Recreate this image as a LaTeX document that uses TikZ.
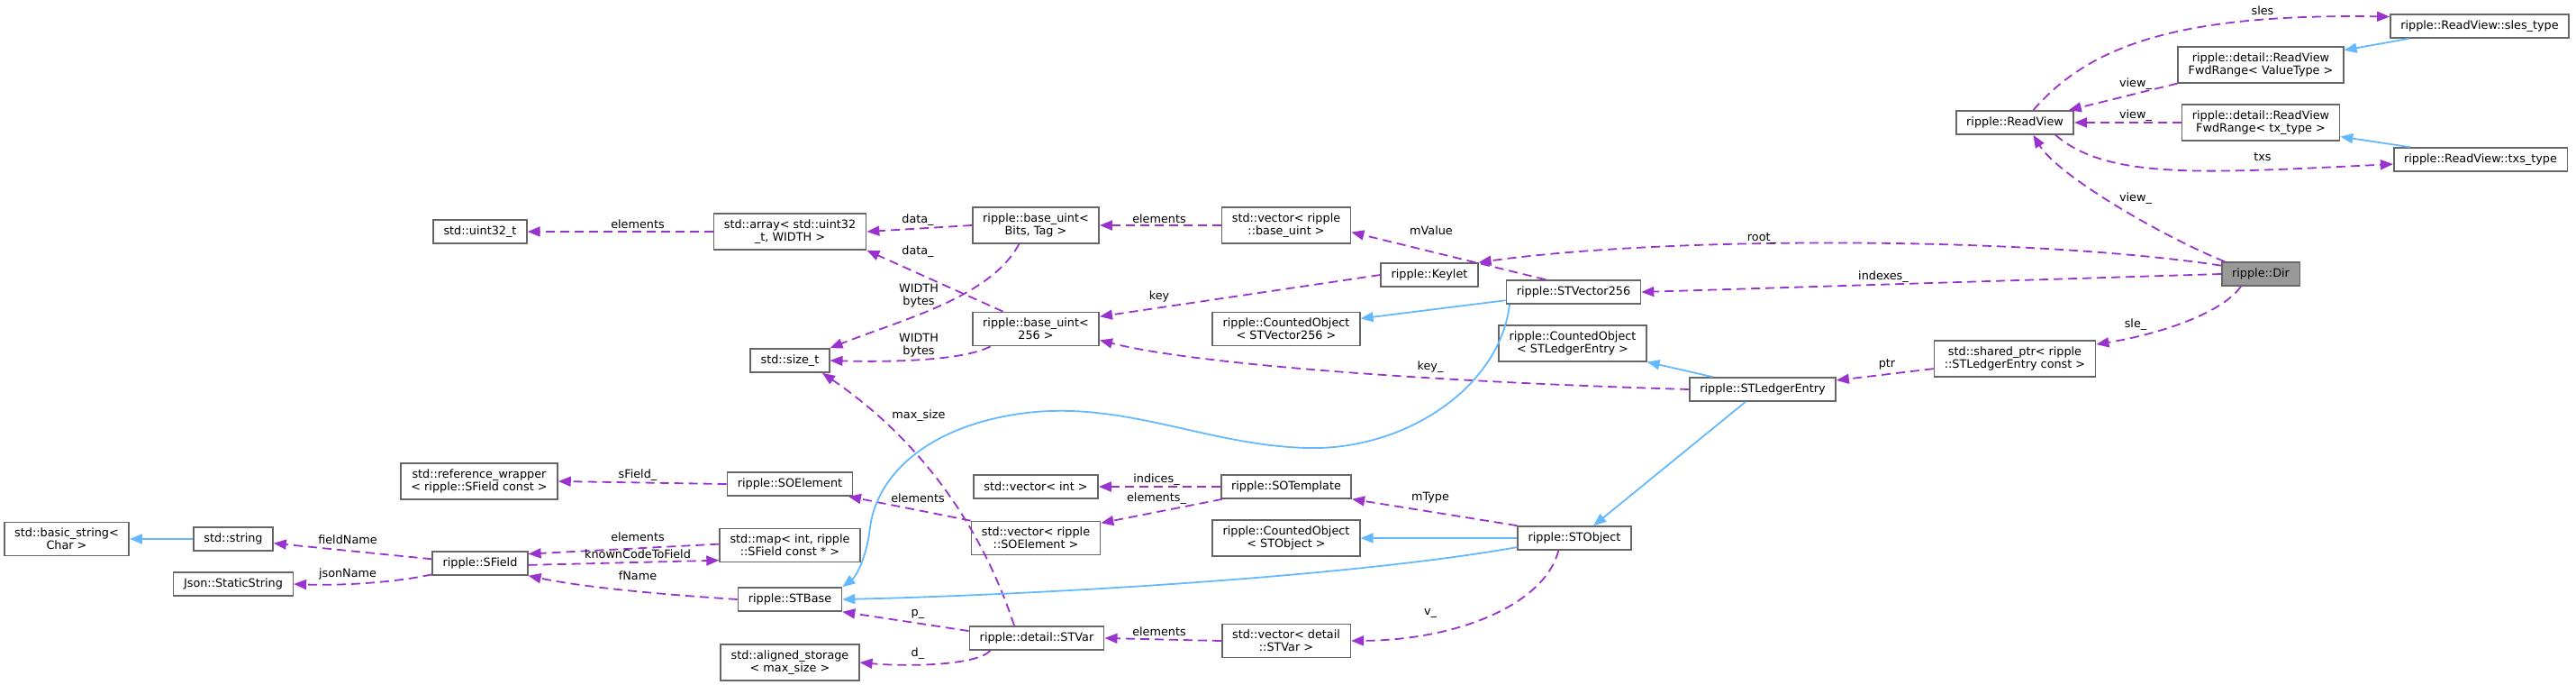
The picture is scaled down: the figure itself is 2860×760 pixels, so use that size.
\documentclass[tikz,border=0pt]{standalone}
\usepackage{fontspec}
\setmainfont{DejaVu Sans}
\usetikzlibrary{arrows.meta}
\definecolor{memPurple}{HTML}{9A32CD}
\definecolor{inhBlue}{HTML}{63B8FF}
\definecolor{boxGray}{HTML}{666666}
\definecolor{focusGray}{HTML}{999999}

\begin{document}
\begin{tikzpicture}[x=0.5pt, y=-0.5pt,
        every node/.style={font=\fontsize{6.4}{7}\selectfont},
        cls/.style={draw=boxGray, fill=white, line width=0.8pt, align=center,
                    inner xsep=5.7pt, inner ysep=3.3pt, minimum height=13pt},
        focus/.style={cls, fill=focusGray},
        mem/.style={draw=memPurple, dash pattern=on 5pt off 3pt, line width=0.9pt,
                    -{Triangle[length=7pt, width=5.5pt]}},
        inh/.style={draw=inhBlue, line width=0.9pt,
                    -{Triangle[length=7pt, width=5.5pt]}},
        lbl/.style={align=center, inner sep=0pt, text=black}]

        \useasboundingbox (0,0) rectangle (2860,760);

        % left classes
        \node[cls] (basicstr) at (74,598) {std::basic\_string<\\Char >};
        \node[cls] (stdstring) at (259,598) {std::string};
        \node[cls] (jsonstr) at (259,648) {Json::StaticString};
        \node[cls] (uint32) at (533,257) {std::uint32\_t};
        \node[cls] (refwrap) at (532,534) {std::reference\_wrapper\\< ripple::SField const >};
        \node[cls] (sfield) at (533,625) {ripple::SField};

        \node[cls] (stdarray) at (877,257) {std::array< std::uint32\\\_t, WIDTH >};
        \node[cls] (sizet) at (877,400) {std::size\_t};
        \node[cls] (soelem) at (877,537) {ripple::SOElement};
        \node[cls] (stdmap) at (877,605) {std::map< int, ripple\\::SField const * >};
        \node[cls] (stbase) at (877,665) {ripple::STBase};
        \node[cls] (alignst) at (877,735) {std::aligned\_storage\\< max\_size >};

        % middle classes
        \node[cls] (baseuintT) at (1150,250) {ripple::base\_uint<\\Bits, Tag >};
        \node[cls] (baseuint256) at (1150,365) {ripple::base\_uint<\\256 >};
        \node[cls] (vecint) at (1150,540) {std::vector< int >};
        \node[cls] (vecsoelem) at (1150,597) {std::vector< ripple\\::SOElement >};
        \node[cls] (stvar) at (1151,708) {ripple::detail::STVar};

        \node[cls] (vecbase) at (1428,250) {std::vector< ripple\\::base\_uint >};
        \node[cls] (cntvec) at (1428,365) {ripple::CountedObject\\< STVector256 >};
        \node[cls] (sotmpl) at (1428,540) {ripple::SOTemplate};
        \node[cls] (cntobj) at (1428,597) {ripple::CountedObject\\< STObject >};
        \node[cls] (vecstvar) at (1428,711) {std::vector< detail\\::STVar >};

        \node[cls] (keylet) at (1587,305) {ripple::Keylet};
        \node[cls] (stvec) at (1747,324) {ripple::STVector256};
        \node[cls] (cntsle) at (1746,381) {ripple::CountedObject\\< STLedgerEntry >};
        \node[cls] (stobj) at (1748,597) {ripple::STObject};
        \node[cls] (sle) at (1957,432) {ripple::STLedgerEntry};

        % right classes
        \node[cls] (readview) at (2237,136) {ripple::ReadView};
        \node[cls] (sharedp) at (2237,398) {std::shared\_ptr< ripple\\::STLedgerEntry const >};
        \node[cls] (fwdvt) at (2510,72) {ripple::detail::ReadView\\FwdRange< ValueType >};
        \node[cls] (fwdtx) at (2510,136) {ripple::detail::ReadView\\FwdRange< tx\_type >};
        \node[focus] (dir) at (2510,304) {ripple::Dir};
        \node[cls] (slestype) at (2753,29) {ripple::ReadView::sles\_type};
        \node[cls] (txstype) at (2754,177) {ripple::ReadView::txs\_type};

        % members, straight
        \foreach \a/\b/\lx/\ly/\t in {stdarray.west/uint32.east/708/249/elements,
                baseuintT.west/stdarray.east/1019/244/data\_,
                baseuint256.152/stdarray.south east/1019/279/data\_,
                vecbase.west/baseuintT.east/1287/243/elements,
                stvec.156/vecbase.-6/1589/256/mValue,
                keylet.west/baseuint256.11/1287/329/key,
                dir.west/stvec.east/2091/307/indexes\_,
                sharedp.187/sle.7/2095/404/ptr,
                fwdvt.south west/readview.13/2371/93/view\_,
                fwdtx.west/readview.east/2371/128/view\_,
                sfield.175/stdstring.-6/386/599/fieldName,
                stdmap.179/sfield.11/708/596/elements,
                sfield.-2/stdmap.192/708/615/knownCodeToField,
                soelem.west/refwrap.east/708/527/sField\_,
                vecsoelem.north west/soelem.-12/1019/553/elements,
                sotmpl.west/vecint.east/1284/532/indices\_,
                sotmpl.191/vecsoelem.13/1284/553/elements\_,
                stobj.north west/sotmpl.south east/1588/552/mType,
                vecstvar.west/stvar.east/1287/701/elements,
                stvar.174/stbase.south east/1019/681/p\_}{
            \draw[mem] (\a) -- (\b) node[lbl] at (\lx,\ly) {\t};
        }

        % members, curved
        \draw[mem] (baseuintT.228) .. controls (1100,330) and (1000,355) .. (sizet.north east)
            node[lbl] at (1020,328) {WIDTH\\bytes};
        \draw[mem] (baseuint256.201) .. controls (1070,400) and (990,402) .. (sizet.east)
            node[lbl] at (1020,383) {WIDTH\\bytes};
        \draw[mem] (sle.west) .. controls (1600,424) and (1330,405) .. (baseuint256.-10)
            node[lbl] at (1588,407) {key\_};
        \draw[mem] (dir.168) .. controls (2250,262) and (1850,262) .. (keylet.north east)
            node[lbl] at (1956,265) {root\_};
        \draw[mem] (dir.161) .. controls (2400,262) and (2285,195) .. (readview.-34)
            node[lbl] at (2371,220) {view\_};
        \draw[mem] (dir.212) .. controls (2465,350) and (2390,372) .. (sharedp.10)
            node[lbl] at (2371,360) {sle\_};
        \draw[mem] (readview.34) .. controls (2320,50) and (2420,15) .. (slestype.174)
            node[lbl] at (2512,12) {sles};
        \draw[mem] (readview.-17) .. controls (2340,200) and (2450,192) .. (txstype.183)
            node[lbl] at (2512,174) {txs};
        \draw[mem] (sfield.193) .. controls (440,646) and (380,650) .. (jsonstr.east)
            node[lbl] at (386,637) {jsonName};
        \draw[mem] (stbase.west) .. controls (740,660) and (650,652) .. (sfield.south east)
            node[lbl] at (708,639) {fName};
        \draw[mem] (stobj.218) .. controls (1715,670) and (1620,710) .. (vecstvar.east)
            node[lbl] at (1588,681) {v\_};
        \draw[mem] (stvar.195) .. controls (1085,738) and (1010,740) .. (alignst.east)
            node[lbl] at (1019,725) {d\_};
        \draw[mem] (stvar.151) .. controls (1085,570) and (1010,480) .. (sizet.-21)
            node[lbl] at (1020,461) {max\_size};

        % inheritance
        \foreach \a/\b in {stdstring.west/basicstr.east, slestype.190/fwdvt.10,
                txstype.170/fwdtx.-10, stvec.187/cntvec.8, sle.166/cntsle.south east,
                sle.216/stobj.33, stobj.west/cntobj.east}{
            \draw[inh] (\a) -- (\b);
        }
        \draw[inh] (stvec.191) .. controls (1665,430) and (1560,500) .. (1451,497)
            .. controls (1340,494) and (1250,445) .. (1140,458)
            .. controls (1040,470) and (975,520) .. (966,585)
            .. controls (962,620) and (950,640) .. (stbase.north east);
        \draw[inh] (stobj.189) .. controls (1500,640) and (1150,660) .. (stbase.east);

    \end{tikzpicture}
\end{document}
